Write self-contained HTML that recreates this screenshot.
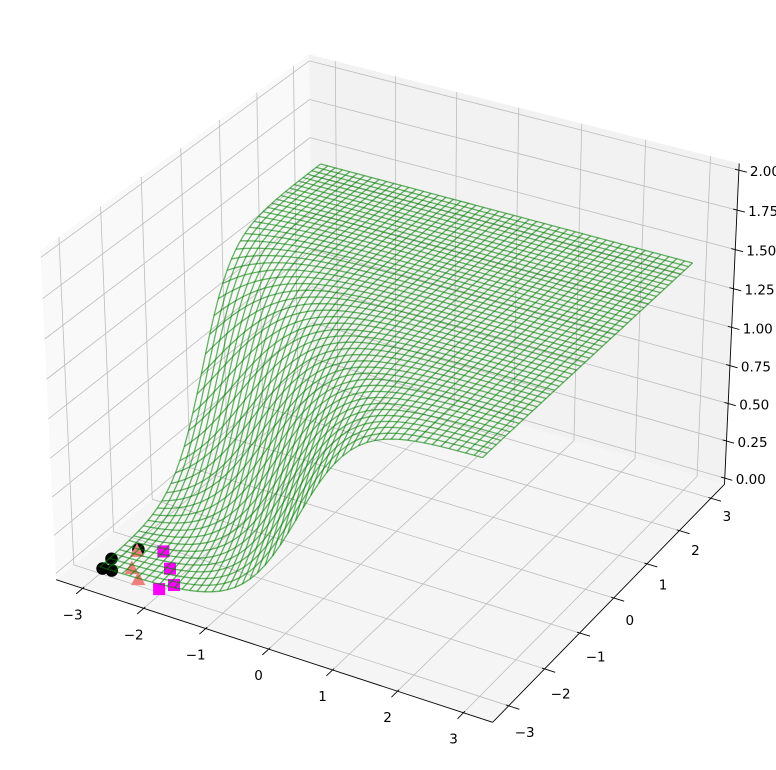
<!DOCTYPE html>
<html><head><meta charset="utf-8">
<style>
html,body{margin:0;padding:0;background:#fff;}
svg{display:block;font-family:"DejaVu Sans","Liberation Sans",sans-serif;}
</style></head>
<body>
<svg id="chart" width="776" height="770" viewBox="0 0 776 770" xmlns="http://www.w3.org/2000/svg">
<g id="panes"></g>
<g id="grid"></g>
<g id="axes"></g>
<g id="markers"></g>
<g id="wire" fill="none" stroke="#008000" stroke-opacity="0.6" stroke-width="1.3"></g>
</svg>
<script>
// ---- data ----
const xTicks = [-3,-2,-1,0,1,2,3];
const yTicks = [-3,-2,-1,0,1,2,3];
const zTicks = [0,0.25,0.5,0.75,1,1.25,1.5,1.75,2];
const zTickLabels = ["0.00","0.25","0.50","0.75","1.00","1.25","1.50","1.75","2.00"];
const circleX = [-2.95,-2.98,-2.81,-2.79];
const circleY = [-3.01,-2.74,-2.99,-2.35];
const triX = [-2.78,-2.60,-2.37];
const triY = [-2.40,-2.81,-3.00];
const sqX = [-2.46,-2.14,-1.87,-1.99];
const sqY = [-2.22,-2.55,-2.87,-3.06];
const surfPlateau = [1.45];
const surfCenter = [-8.5, -10.0];
const surfRadius = [11.17];
const surfSteep = [2.8];
const gridN = [50];

// ---- projection (elev 30, azim -60) ----
const XL=[-3.3,3.3], YL=[-3.3,3.3], ZL=[0,2];
const AS=[1.142857,1.142857,0.857143];
function proj(x,y,z){
  const qx=(x-XL[0])/(XL[1]-XL[0])*AS[0]-AS[0]/2;
  const qy=(y-YL[0])/(YL[1]-YL[0])*AS[1]-AS[1]/2;
  const qz=(z-ZL[0])/(ZL[1]-ZL[0])*AS[2]-AS[2]/2;
  const xc=0.8660254*qx+0.5*qy;
  const yc=-0.25*qx+0.4330127*qy+0.8660254*qz;
  const wq=0.4330127*qx-0.75*qy+0.5*qz;
  const d=10-wq;
  return [396.5+4200*xc/d, 372.3-4200*yc/d];
}
const NS='http://www.w3.org/2000/svg';
function mk(tag,parent,attrs){const e=document.createElementNS(NS,tag);for(const k in attrs)e.setAttribute(k,attrs[k]);parent.appendChild(e);return e;}
function pts(arr){return arr.map(p=>{const s=proj(p[0],p[1],p[2]);return s[0].toFixed(2)+','+s[1].toFixed(2);}).join(' ');}
const B=3.4375, Z0=-0.0417, Z1=2.0417;
const panes=document.getElementById('panes');
let e;
e=mk('polygon',panes,{points:pts([[-B,-B,Z0],[B,-B,Z0],[B,B,Z0],[-B,B,Z0]]),fill:'#f5f5f5'});


e=mk('polygon',panes,{points:pts([[-B,-B,Z0],[-B,B,Z0],[-B,B,Z1],[-B,-B,Z1]]),fill:'#f9f9f9'});


e=mk('polygon',panes,{points:pts([[-B,B,Z0],[B,B,Z0],[B,B,Z1],[-B,B,Z1]]),fill:'#f2f2f2'});



const grid=document.getElementById('grid');
function gline(a,b,name){const l=mk('polyline',grid,{points:pts([a,b]),stroke:'#bdbdbd','stroke-width':0.8,fill:'none'});

}
xTicks.forEach(v=>{gline([v,-B,Z0],[v,B,Z0],'x-gridline');gline([v,B,Z0],[v,B,Z1],'x-gridline');});
yTicks.forEach(v=>{gline([-B,v,Z0],[B,v,Z0],'y-gridline');gline([-B,v,Z0],[-B,v,Z1],'y-gridline');});
zTicks.forEach(v=>{gline([-B,-B,v],[-B,B,v],'z-gridline');gline([-B,B,v],[B,B,v],'z-gridline');});

const axes=document.getElementById('axes');
function aline(a,b,name,w){const l=mk('polyline',axes,{points:pts([a,b]),stroke:'#000','stroke-width':w,fill:'none'});

}
function label(x,y,txt,anchor,name){const t=mk('text',axes,{x:x.toFixed(1),y:y.toFixed(1),'font-size':'13.5','text-anchor':anchor,'dominant-baseline':'central',fill:'#000'});t.textContent=txt;

}
aline([-B,-B,Z0],[B,-B,Z0],'x-axis-line',0.9);
aline([B,-B,Z0],[B,B,Z0],'y-axis-line',0.9);
aline([B,B,Z0],[B,B,Z1],'z-axis-line',0.9);
const fmt=v=>(v<0?'\u2212':'')+Math.abs(v);
xTicks.forEach(v=>{aline([v,-B+0.04,Z0],[v,-B-0.16,Z0],'x-tick',0.9);const p=proj(v,-B,Z0);label(p[0]-10,p[1]+27,fmt(v),'middle','x-tick-label');});
yTicks.forEach((v,i)=>{aline([B-0.04,v,Z0],[B+0.16,v,Z0],'y-tick',0.9);const p=proj(B,v,Z0);label(p[0]+16,p[1]+27-8*(v+3)/6,fmt(v),'middle','y-tick-label');});
zTicks.forEach((v,i)=>{aline([B-0.06,B,v],[B+0.12,B,v],'z-tick',0.9);const p=proj(B,B,v);label(p[0]+11,p[1]+2,zTickLabels[i],'start','z-tick-label');});

const mg=document.getElementById('markers');
circleX.forEach((x,i)=>{const p=proj(x,circleY[i],0);const c=mk('circle',mg,{cx:p[0].toFixed(1),cy:p[1].toFixed(1),r:6.3,fill:'#000'});

});
triX.forEach((x,i)=>{const p=proj(x,triY[i],0);const s=8;const t=mk('polygon',mg,{points:`${p[0]},${p[1]-s} ${p[0]-s*0.9},${p[1]+s*0.7} ${p[0]+s*0.9},${p[1]+s*0.7}`,fill:'#f08080'});

});
sqX.forEach((x,i)=>{const p=proj(x,sqY[i],0);const r=mk('rect',mg,{x:(p[0]-6).toFixed(1),y:(p[1]-6).toFixed(1),width:12,height:12,fill:'#ff00ff'});

});

// wireframe surface
const wg=document.getElementById('wire');
const N=gridN[0];
function surf(x,y){const r=Math.hypot(x-surfCenter[0],y-surfCenter[1]);return surfPlateau[0]/(1+Math.exp(-surfSteep[0]*(r-surfRadius[0])));}
const grid1=[];for(let i=0;i<N;i++)grid1.push(-3+6*i/(N-1));
grid1.forEach(yv=>{const l=mk('polyline',wg,{points:pts(grid1.map(xv=>[xv,yv,surf(xv,yv)]))});

});
grid1.forEach(xv=>{const l=mk('polyline',wg,{points:pts(grid1.map(yv=>[xv,yv,surf(xv,yv)]))});

});
</script>
</body></html>
